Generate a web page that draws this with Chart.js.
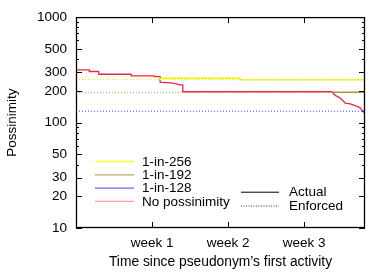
<!DOCTYPE html>
<html><head><meta charset="utf-8">
<script src="https://cdn.jsdelivr.net/npm/chart.js@4/dist/chart.umd.min.js"></script>
<style>html,body{margin:0;padding:0;background:#fff}#wrap{width:390px;height:272px;position:relative}</style>
</head><body><div id="wrap"><canvas id="c"></canvas></div>
<script>
// ---- data (x in days since first activity) ----
const xMaxDays = 26.6;
const weekTickDays = [7, 14, 21];
const weekTickLabels = ['week 1', 'week 2', 'week 3'];
const yLabelTicks = [10, 20, 30, 50, 100, 200, 300, 500, 1000];
const seriesNames = ['1-in-256', '1-in-192', '1-in-128', 'No possinimity'];
const styleNames = ['Actual', 'Enforced'];

const redDays   = [0, 1.23, 1.23, 2.09, 2.09, 5.07, 5.07, 7.21, 7.21, 7.74, 7.74, 8.91, 9.58, 9.83, 9.83, 23.55, 23.86, 24.32, 24.62, 24.78, 25.24, 25.7, 26.16, 26.34, 26.53, 26.6];
const redValues = [316, 316, 305, 305, 287, 287, 277, 277, 272, 272, 242, 237, 228, 228, 196, 196, 181, 171, 159, 153, 150, 145, 138, 130, 124, 120];

const yellowActualDays   = [7.6, 15.1, 15.1, 26.6];
const yellowActualValues = [263, 263, 254, 254];
const oliveActualDays    = [23.5, 26.6];
const oliveActualValues  = [194, 194];
const blueActualDays     = [26.3, 26.6];
const blueActualValues   = [128, 128];

const enforcedDays   = [0, 26.6];
const yellowEnforced = [256, 256];
const oliveEnforced  = [192, 192];
const blueEnforced   = [128, 128];

const pts = (xs, ys) => xs.map((x, i) => ({x, y: ys[i]}));

const FONT = 'Liberation Sans, Arial, Helvetica, sans-serif';
Chart.defaults.font.family = FONT;
Chart.defaults.font.size = 13.5;
Chart.defaults.color = '#000';

const lineDs = (data, color, dashed, width) => ({
  data, borderColor: color, borderWidth: width || 1, pointRadius: 0,
  borderDash: dashed ? [1, 2] : [], fill: false, tension: 0
});

const frame = {
  id: 'frame',
  afterDraw(chart) {
    const {ctx, chartArea: a, scales: {x, y}} = chart;
    ctx.save();
    ctx.strokeStyle = '#000';
    ctx.lineWidth = 1;
    ctx.beginPath();
    for (let d = 10; d < 1000; d *= 10) {
      for (let m = 1; m <= 10; m++) {
        const v = d * m;
        const py = Math.round(y.getPixelForValue(v)) + 0.5;
        const len = yLabelTicks.includes(v) ? 6 : 3;
        ctx.moveTo(a.left, py); ctx.lineTo(a.left + len, py);
        ctx.moveTo(a.right, py); ctx.lineTo(a.right - len, py);
      }
    }
    weekTickDays.forEach(v => {
      const px = Math.round(x.getPixelForValue(v)) + 0.5;
      ctx.moveTo(px, a.bottom); ctx.lineTo(px, a.bottom - 6);
      ctx.moveTo(px, a.top); ctx.lineTo(px, a.top + 6);
    });
    ctx.stroke();
    ctx.lineWidth = 1.3;
    ctx.strokeRect(a.left + 0.5, a.top + 0.5, a.right - a.left - 1, a.bottom - a.top - 1);

    ctx.font = '13.5px ' + FONT;
    ctx.textBaseline = 'middle';
    ctx.fillStyle = '#000';
    const legColors = ['#ffff30', '#c0aa66', '#6a6aff', '#ff9c9c'];
    const rowsY = [161.5, 174.8, 188.1, 201.4];
    seriesNames.forEach((n, i) => {
      ctx.beginPath();
      ctx.strokeStyle = legColors[i];
      ctx.lineWidth = 1.3;
      ctx.moveTo(95, rowsY[i]); ctx.lineTo(134, rowsY[i]);
      ctx.stroke();
      ctx.fillText(n, 142, rowsY[i] + 0.5);
    });
    const rows2 = [191.7, 205.5];
    styleNames.forEach((n, i) => {
      ctx.beginPath();
      ctx.strokeStyle = '#000';
      ctx.lineWidth = i ? 0.8 : 1;
      ctx.setLineDash(i ? [1, 1.5] : []);
      ctx.moveTo(241, rows2[i] + 0.5); ctx.lineTo(279, rows2[i] + 0.5);
      ctx.stroke();
      ctx.setLineDash([]);
      ctx.fillText(n, 289, rows2[i] + 0.5);
    });
    ctx.restore();
  }
};

new Chart(document.getElementById('c'), {
  type: 'line',
  data: {
    datasets: [
      lineDs(pts(enforcedDays, yellowEnforced), '#f0f000', true),
      lineDs(pts(enforcedDays, oliveEnforced), '#b8a050', true),
      lineDs(pts(enforcedDays, blueEnforced), '#4040ff', true),
      lineDs(pts(yellowActualDays, yellowActualValues), '#f4f000', false, 1.4),
      lineDs(pts(oliveActualDays, oliveActualValues), '#a89040', false, 1.4),
      lineDs(pts(blueActualDays, blueActualValues), '#3030ff', false, 1.4),
      lineDs(pts(redDays, redValues), '#e22a44', false, 1.3)
    ]
  },
  options: {
    responsive: true, maintainAspectRatio: false, animation: false,
    layout: {padding: {top: 15, right: 25, left: 0, bottom: 0}},
    plugins: {legend: {display: false}, tooltip: {enabled: false}},
    scales: {
      x: {
        type: 'linear', min: 0, max: xMaxDays,
        grid: {display: false, drawTicks: false}, border: {display: false},
        afterBuildTicks: s => { s.ticks = weekTickDays.map(v => ({value: v})); },
        ticks: {padding: 7, maxRotation: 0, callback: v => weekTickLabels[weekTickDays.indexOf(v)]},
        afterFit: s => { s.height = 44; },
        title: {display: true, text: 'Time since pseudonym\u2019s first activity', font: {size: 13.8}, padding: {top: 0, bottom: 2}}
      },
      y: {
        type: 'logarithmic', min: 10, max: 1000,
        grid: {display: false, drawTicks: false}, border: {display: false},
        afterBuildTicks: s => { s.ticks = yLabelTicks.map(v => ({value: v})); },
        ticks: {padding: 9, callback: v => String(v)},
        afterFit: s => { s.width = 76; },
        title: {display: true, text: 'Possinimity', padding: {top: 4, bottom: 0}}
      }
    }
  },
  plugins: [frame]
});
</script></body></html>
